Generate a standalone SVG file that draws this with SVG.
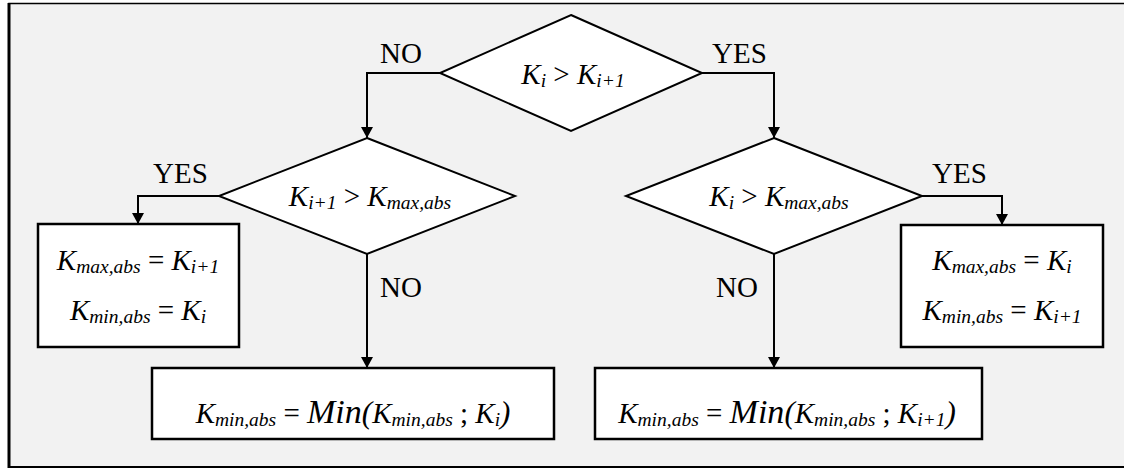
<svg xmlns="http://www.w3.org/2000/svg" width="1124" height="468" viewBox="0 0 1124 468">
  <style>
    .shape { fill: #ffffff; stroke: #000000; stroke-width: 2; }
    .box { fill: #ffffff; stroke: #000000; stroke-width: 2.5; }
    .link { fill: none; stroke: #000000; stroke-width: 2; }
    .lbl { font-family: "Liberation Serif", "Times New Roman", serif; font-size: 29px; fill: #000; }
    .eq { font-family: "Liberation Serif", "Times New Roman", serif; font-size: 29px; fill: #000; text-anchor: middle; }
    .v { font-style: italic; }
    .sub { font-style: italic; font-size: 19.5px; }
    .fn { font-style: italic; font-size: 34px; }
    .par { font-style: italic; font-size: 31px; }
  </style>
  <defs>
    <marker id="arrow" markerUnits="userSpaceOnUse" markerWidth="12" markerHeight="12" refX="11" refY="6" orient="auto">
      <path d="M0,0 L11,6 L0,12 Z" fill="#000000"/>
    </marker>
  </defs>

  <!-- page background and frame -->
  <rect x="0" y="0" width="1124" height="468" fill="#ffffff"/>
  <rect x="9" y="3.5" width="1130" height="463.5" fill="#f2f2f2" stroke="#000000" stroke-width="1.5"/>
  <line x1="9" y1="3" x2="9" y2="468" stroke="#000000" stroke-width="3"/>
  <line x1="9" y1="467" x2="1124" y2="467" stroke="#000000" stroke-width="2"/>

  <!-- connectors -->
  <g id="connectors">
    <path class="link" d="M440,73 H367 V138" marker-end="url(#arrow)"/>
    <path class="link" d="M702,73 H774 V138" marker-end="url(#arrow)"/>
    <path class="link" d="M219,196 H138 V224" marker-end="url(#arrow)"/>
    <path class="link" d="M367,254 V368" marker-end="url(#arrow)"/>
    <path class="link" d="M922,196 H1002 V225" marker-end="url(#arrow)"/>
    <path class="link" d="M774,254 V368" marker-end="url(#arrow)"/>
  </g>

  <!-- branch labels -->
  <g id="labels">
    <text class="lbl" x="380" y="63">NO</text>
    <text class="lbl" x="712" y="63">YES</text>
    <text class="lbl" x="153" y="183">YES</text>
    <text class="lbl" x="380" y="297">NO</text>
    <text class="lbl" x="932" y="183">YES</text>
    <text class="lbl" x="716" y="297">NO</text>
  </g>

  <!-- decision: Ki > Ki+1 -->
  <g id="decision-top">
    <polygon class="shape" points="571,15 702,73 571,131 440,73"/>
    <text class="eq" x="573" y="84"><tspan class="v">K</tspan><tspan class="sub" dy="3">i</tspan><tspan dy="-3"> &gt; </tspan><tspan class="v">K</tspan><tspan class="sub" dy="3">i+1</tspan></text>
  </g>

  <!-- decision: Ki+1 > Kmax,abs -->
  <g id="decision-left">
    <polygon class="shape" points="367,138 515,196 367,254 219,196"/>
    <text class="eq" x="370" y="206"><tspan class="v">K</tspan><tspan class="sub" dy="3">i+1</tspan><tspan dy="-3"> &gt; </tspan><tspan class="v">K</tspan><tspan class="sub" dy="3">max,abs</tspan></text>
  </g>

  <!-- decision: Ki > Kmax,abs -->
  <g id="decision-right">
    <polygon class="shape" points="774,138 922,196 774,254 626,196"/>
    <text class="eq" x="779" y="206"><tspan class="v">K</tspan><tspan class="sub" dy="3">i</tspan><tspan dy="-3"> &gt; </tspan><tspan class="v">K</tspan><tspan class="sub" dy="3">max,abs</tspan></text>
  </g>

  <!-- assignment: new max from Ki+1 -->
  <g id="assign-left">
    <rect class="box" x="38" y="224" width="201" height="123"/>
    <text class="eq" x="138" y="270"><tspan class="v">K</tspan><tspan class="sub" dy="3">max,abs</tspan><tspan dy="-3"> = </tspan><tspan class="v">K</tspan><tspan class="sub" dy="3">i+1</tspan></text>
    <text class="eq" x="138" y="320"><tspan class="v">K</tspan><tspan class="sub" dy="3">min,abs</tspan><tspan dy="-3"> = </tspan><tspan class="v">K</tspan><tspan class="sub" dy="3">i</tspan></text>
  </g>

  <!-- assignment: new max from Ki -->
  <g id="assign-right">
    <rect class="box" x="901" y="225" width="202" height="122"/>
    <text class="eq" x="1002" y="270"><tspan class="v">K</tspan><tspan class="sub" dy="3">max,abs</tspan><tspan dy="-3"> = </tspan><tspan class="v">K</tspan><tspan class="sub" dy="3">i</tspan></text>
    <text class="eq" x="1002" y="320"><tspan class="v">K</tspan><tspan class="sub" dy="3">min,abs</tspan><tspan dy="-3"> = </tspan><tspan class="v">K</tspan><tspan class="sub" dy="3">i+1</tspan></text>
  </g>

  <!-- minimum update with Ki -->
  <g id="min-left">
    <rect class="box" x="152" y="368" width="402" height="71"/>
    <text class="eq" x="353" y="423"><tspan class="v">K</tspan><tspan class="sub" dy="3">min,abs</tspan><tspan dy="-3"> = </tspan><tspan class="fn">Min</tspan><tspan class="par">(</tspan><tspan class="v">K</tspan><tspan class="sub" dy="3">min,abs</tspan><tspan dy="-3"> ; </tspan><tspan class="v">K</tspan><tspan class="sub" dy="3">i</tspan><tspan class="par" dy="-3">)</tspan></text>
  </g>

  <!-- minimum update with Ki+1 -->
  <g id="min-right">
    <rect class="box" x="595" y="368" width="387" height="71"/>
    <text class="eq" x="787" y="423"><tspan class="v">K</tspan><tspan class="sub" dy="3">min,abs</tspan><tspan dy="-3"> = </tspan><tspan class="fn">Min</tspan><tspan class="par">(</tspan><tspan class="v">K</tspan><tspan class="sub" dy="3">min,abs</tspan><tspan dy="-3"> ; </tspan><tspan class="v">K</tspan><tspan class="sub" dy="3">i+1</tspan><tspan class="par" dy="-3">)</tspan></text>
  </g>
</svg>
